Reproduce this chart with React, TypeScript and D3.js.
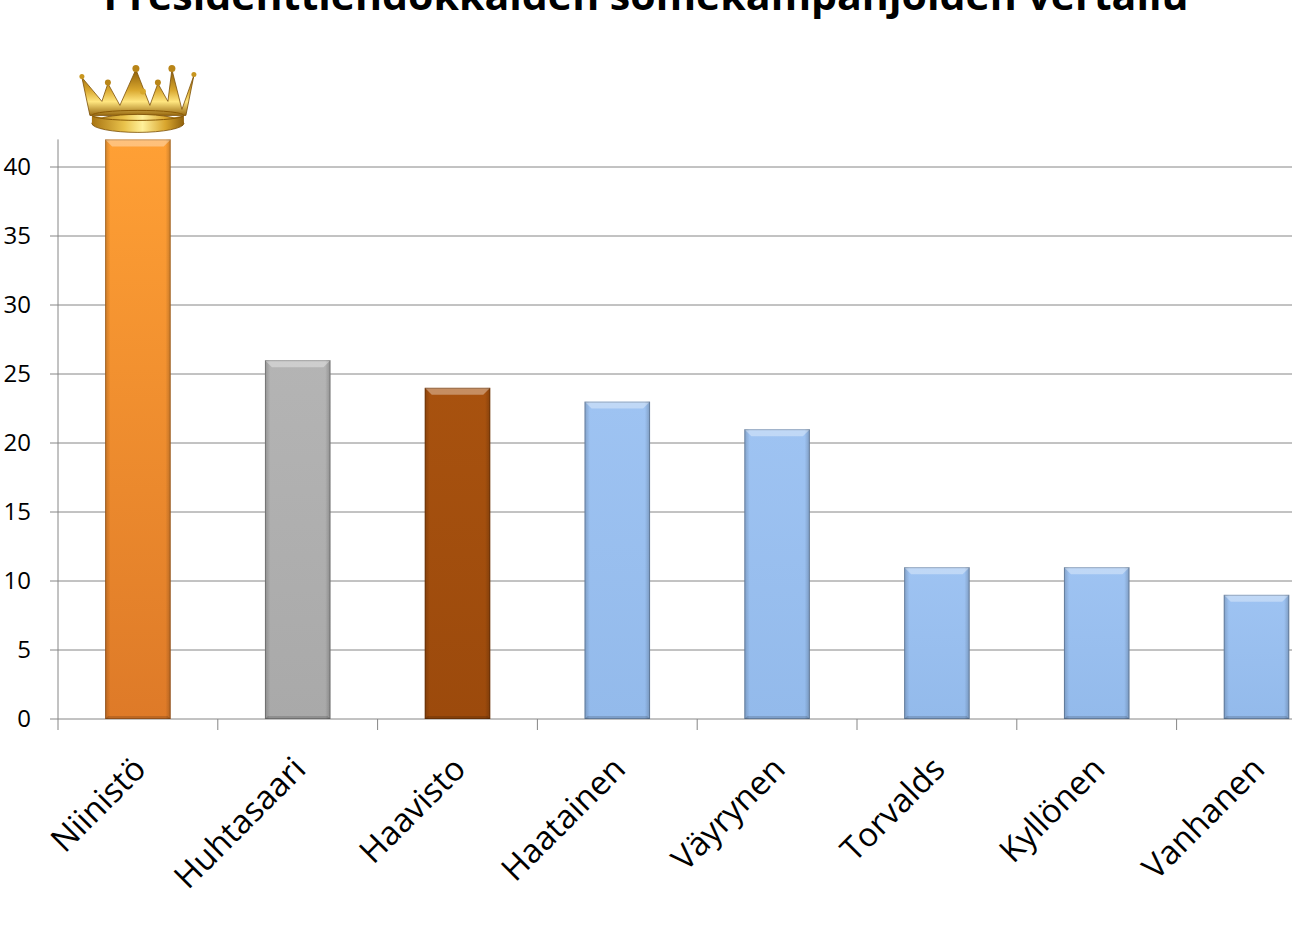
import React from "react";
import * as d3 from "d3";

const categories = ["Niinistö", "Huhtasaari", "Haavisto", "Haatainen", "Väyrynen", "Torvalds", "Kyllönen", "Vanhanen"];
const values = [42, 26, 24, 23, 21, 11, 11, 9];
const barColors = [
  ["#FFA035", "#DE7A28"],
  ["#B4B4B4", "#A9A9A9"],
  ["#A8520F", "#9C4A0C"],
  ["#9EC3F2", "#93BAEB"],
  ["#9EC3F2", "#93BAEB"],
  ["#9EC3F2", "#93BAEB"],
  ["#9EC3F2", "#93BAEB"],
  ["#9EC3F2", "#93BAEB"],
];
const yTicks = [0, 5, 10, 15, 20, 25, 30, 35, 40];
const title = "Presidenttiehdokkaiden somekampanjoiden vertailu";

const W = 1292;
const H = 942;
const left = 58;
const bottom = 719;
const bandW = 159.8;

export default function App() {
  const x = d3
    .scaleBand<string>()
    .domain(categories)
    .range([left, left + bandW * categories.length])
    .paddingInner(0.59)
    .paddingOuter(0.295);
  const y = d3.scaleLinear().domain([0, 40]).range([bottom, 167]);
  const bw = x.bandwidth();
  const font = "'Open Sans', 'Noto Sans', sans-serif";

  const crownCx = (x(categories[0]) ?? 0) + bw / 2;
  const crownBase = y(values[0]) - 10;

  return (
    <svg width={W} height={H} style={{ display: "block", position: "absolute", left: 0, top: 0 }}>
      <defs>
        {barColors.map((c, i) => (
          <linearGradient key={i} id={`g${i}`} x1="0" y1="0" x2="0" y2="1">
            <stop offset="0" stopColor={c[0]} />
            <stop offset="1" stopColor={c[1]} />
          </linearGradient>
        ))}
        <linearGradient id="side" x1="0" y1="0" x2="1" y2="0">
          <stop offset="0" stopColor="#000" stopOpacity="0.18" />
          <stop offset="0.08" stopColor="#000" stopOpacity="0.0" />
          <stop offset="0.92" stopColor="#000" stopOpacity="0.0" />
          <stop offset="1" stopColor="#000" stopOpacity="0.2" />
        </linearGradient>
        <linearGradient id="gold" x1="0" y1="0" x2="0" y2="1">
          <stop offset="0" stopColor="#8A5A06" />
          <stop offset="0.45" stopColor="#D9A72E" />
          <stop offset="0.7" stopColor="#FFE680" />
          <stop offset="1" stopColor="#9A6A10" />
        </linearGradient>
        <linearGradient id="goldBand" x1="0" y1="0" x2="1" y2="0">
          <stop offset="0" stopColor="#A87412" />
          <stop offset="0.35" stopColor="#E9C24B" />
          <stop offset="0.55" stopColor="#FFF09A" />
          <stop offset="0.8" stopColor="#D9A62E" />
          <stop offset="1" stopColor="#8F600C" />
        </linearGradient>
      </defs>
      <rect width={W} height={H} fill="#fff" />

      <text
        x={W / 2}
        y={10}
        textAnchor="middle"
        fontFamily={font}
        fontWeight="bold"
        fontSize={40}
        textLength={1085}
        lengthAdjust="spacingAndGlyphs"
        fill="#000"
      >
        {title}
      </text>

      {/* gridlines */}
      {yTicks.map((t) => (
        <g key={t}>
          <line x1={left - 8} x2={W} y1={y(t)} y2={y(t)} stroke="#868686" strokeWidth={1} />
          <text
            x={31}
            y={y(t)}
            dy="0.35em"
            textAnchor="end"
            fontFamily={font}
            fontSize={24}
            fill="#000"
          >
            {t}
          </text>
        </g>
      ))}
      {/* y axis */}
      <line x1={left} x2={left} y1={y(42)} y2={bottom} stroke="#868686" />
      {/* category ticks */}
      {categories.map((c, i) => (
        <line
          key={c}
          x1={left + bandW * i}
          x2={left + bandW * i}
          y1={bottom}
          y2={bottom + 11}
          stroke="#868686"
        />
      ))}

      {/* bars */}
      {categories.map((c, i) => {
        const bx = x(c) ?? 0;
        const by = y(values[i]);
        const h = bottom - by;
        const bev = 7;
        return (
          <g key={c}>
            <rect x={bx} y={by} width={bw} height={h} fill={`url(#g${i})`} />
            <rect x={bx} y={by} width={bw} height={h} fill="url(#side)" />
            <polygon
              points={`${bx},${by} ${bx + bw},${by} ${bx + bw - bev},${by + bev} ${bx + bev},${by + bev}`}
              fill="#fff"
              opacity={0.35}
            />
            <polygon
              points={`${bx},${bottom} ${bx + bw},${bottom} ${bx + bw - 3},${bottom - 3} ${bx + 3},${bottom - 3}`}
              fill="#000"
              opacity={0.15}
            />
            <rect
              x={bx + 0.5}
              y={by + 0.5}
              width={bw - 1}
              height={h - 1}
              fill="none"
              stroke="#000"
              strokeOpacity={0.22}
            />
          </g>
        );
      })}

      {/* crown */}
      <g transform={`translate(${crownCx},${crownBase})`}>
        <path
          d="M-48,-14 L-56,-52 L-36,-28 L-30,-46 L-18,-24 L-2,-60 L12,-24 L20,-46 L30,-28 L34,-60 L44,-20 L56,-54 L48,-14 Z"
          fill="url(#gold)"
          stroke="#7A4E05"
          strokeWidth={0.8}
        />
        <circle cx={-2} cy={-61} r={3.5} fill="#B98518" />
        <circle cx={34} cy={-61} r={3.5} fill="#B98518" />
        <circle cx={-30} cy={-47} r={3} fill="#B98518" />
        <circle cx={20} cy={-47} r={3} fill="#B98518" />
        <circle cx={-56} cy={-53} r={2.5} fill="#C8961F" />
        <circle cx={56} cy={-55} r={2.5} fill="#C8961F" />
        <circle cx={5} cy={-38} r={3} fill="#D7A72A" />
        <ellipse cx={0} cy={-6} rx={46} ry={9} fill="url(#goldBand)" stroke="#7A4E05" strokeWidth={0.8} />
        <path d="M-46,-14 Q0,-4 46,-14 L46,-6 Q0,4 -46,-6 Z" fill="url(#goldBand)" />
        <ellipse cx={0} cy={-14} rx={46} ry={5} fill="none" stroke="#8A5A06" strokeWidth={1} />
      </g>

      {/* category labels */}
      {categories.map((c) => {
        const cx = (x(c) ?? 0) + bw / 2 + 10;
        const cy = 771;
        return (
          <text
            key={c}
            transform={`translate(${cx},${cy}) rotate(-45)`}
            textAnchor="end"
            fontFamily={font}
            fontSize={33}
            fill="#000"
          >
            {c}
          </text>
        );
      })}
    </svg>
  );
}
